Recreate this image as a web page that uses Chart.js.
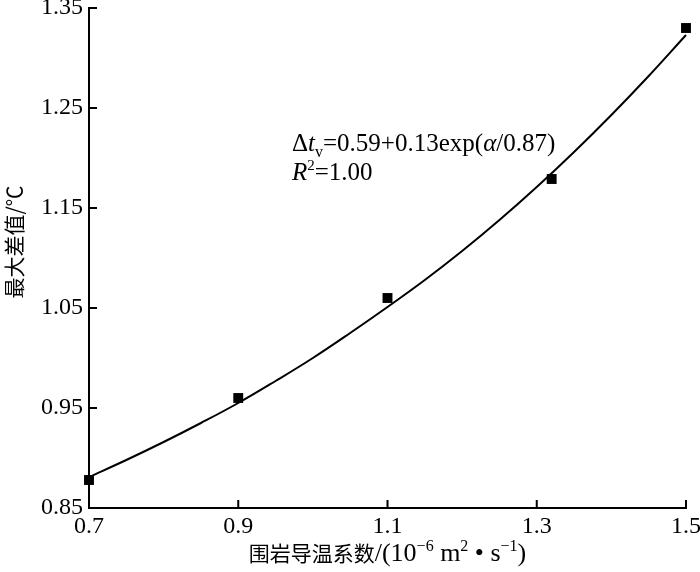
<!DOCTYPE html>
<html>
<head>
<meta charset="utf-8">
<script src="https://cdn.jsdelivr.net/npm/chart.js@4/dist/chart.umd.min.js"></script>
<style>
  html, body { margin: 0; padding: 0; background: #fff; }
  #wrap { width: 700px; height: 572px; }
</style>
</head>
<body>
<div id="wrap"><canvas id="chart"></canvas></div>
<script>
/* Measured points (thermal diffusivity vs. max difference) */
const POINT_X = [0.7, 0.9, 1.1, 1.32, 1.5];
const POINT_Y = [0.878, 0.960, 1.060, 1.179, 1.330];

/* Fitted curve */
const CURVE_X = [0.70, 0.75, 0.80, 0.85, 0.90, 0.95, 1.00, 1.05, 1.10, 1.15, 1.20, 1.25, 1.30, 1.35, 1.40, 1.45, 1.50];
const CURVE_Y = [0.881, 0.898, 0.916, 0.935, 0.955, 0.977, 1.000, 1.025, 1.051, 1.078, 1.107, 1.138, 1.171, 1.206, 1.243, 1.282, 1.323];

/* Axis ticks */
const X_TICKS = [0.7, 0.9, 1.1, 1.3, 1.5];
const Y_TICKS = [0.85, 0.95, 1.05, 1.15, 1.25, 1.35];

const SERIF = "'Liberation Serif', 'DejaVu Serif', serif";
const CJK = "'Noto Sans CJK SC', sans-serif";

/* Draw a run of text pieces: [text, font, baseline shift] */
function drawRun(ctx, parts, x, y, align) {
    let total = 0;
    for (const p of parts) {
        ctx.font = p[1];
        total += ctx.measureText(p[0]).width;
    }
    let cx = align === "center" ? x - total / 2 : x;
    ctx.textAlign = "left";
    ctx.textBaseline = "alphabetic";
    for (const p of parts) {
        ctx.font = p[1];
        ctx.fillText(p[0], cx, y + (p[2] || 0));
        cx += ctx.measureText(p[0]).width;
    }
}

/* Inward tick marks, axis titles and the fit equation */
const decorations = {
    id: "decorations",
    afterDraw(chart) {
        const { ctx, chartArea, scales } = chart;
        ctx.save();
        ctx.strokeStyle = "#000";
        ctx.lineWidth = 2;
        ctx.beginPath();
        for (const t of X_TICKS) {
            const px = scales.x.getPixelForValue(t);
            ctx.moveTo(px, chartArea.bottom);
            ctx.lineTo(px, chartArea.bottom - 8);
        }
        for (const t of Y_TICKS) {
            const py = scales.y.getPixelForValue(t);
            ctx.moveTo(chartArea.left, py);
            ctx.lineTo(chartArea.left + 8, py);
        }
        ctx.stroke();

        ctx.fillStyle = "#000";
        const big = "26px " + SERIF;
        const sup = "16px " + SERIF;

        /* x axis title */
        drawRun(ctx, [
            ["围岩导温系数", "21px " + CJK, 0],
            ["/(10", big, 0],
            ["\u2212", sup, -10],
            ["6", sup, -10],
            [" m", big, 0],
            ["2", sup, -10],
            [" \u2022 ", big, 0],
            ["s", big, 0],
            ["\u22121", sup, -10],
            [")", big, 0],
        ], (chartArea.left + chartArea.right) / 2, 561, "center");

        /* y axis title */
        ctx.save();
        ctx.translate(22, 242);
        ctx.rotate(-Math.PI / 2);
        drawRun(ctx, [["最大差值/℃", "21px " + CJK, 0]], 0, 0, "center");
        ctx.restore();

        /* fit equation */
        const eq = "25px " + SERIF;
        const eqI = "italic 25px " + SERIF;
        drawRun(ctx, [
            ["\u0394", eq, 0],
            ["t", eqI, 0],
            ["v", "16px " + SERIF, 6],
            ["=0.59+0.13exp(", eq, 0],
            ["\u03b1", eqI, 0],
            ["/0.87)", eq, 0],
        ], 292, 151, "left");
        drawRun(ctx, [
            ["R", eqI, 0],
            ["2", "15px " + SERIF, -10],
            ["=1.00", eq, 0],
        ], 292, 180, "left");
        ctx.restore();
    },
};

new Chart(document.getElementById("chart"), {
    type: "scatter",
    data: {
        datasets: [
            {
                type: "line",
                data: CURVE_X.map((x, i) => ({ x, y: CURVE_Y[i] })),
                borderColor: "#000",
                borderWidth: 2,
                pointRadius: 0,
                tension: 0.4,
                fill: false,
                clip: false,
            },
            {
                data: POINT_X.map((x, i) => ({ x, y: POINT_Y[i] })),
                pointStyle: "rect",
                pointRadius: 7,
                backgroundColor: "#000",
                borderColor: "#000",
                borderWidth: 0,
                clip: false,
            },
        ],
    },
    options: {
        responsive: true,
        maintainAspectRatio: false,
        animation: false,
        layout: { padding: { top: 8, right: 14, left: 0, bottom: 0 } },
        plugins: { legend: { display: false }, tooltip: { enabled: false } },
        scales: {
            x: {
                type: "linear",
                min: 0.7,
                max: 1.5,
                afterBuildTicks: s => { s.ticks = X_TICKS.map(v => ({ value: v })); },
                afterFit: s => {
                    s.height = 64;
                    s.paddingLeft = 0;
                    s.paddingRight = 0;
                },
                grid: { display: false, drawTicks: false },
                border: { display: true, color: "#000", width: 2 },
                ticks: {
                    color: "#000",
                    font: { family: SERIF, size: 24 },
                    padding: 4,
                    maxRotation: 0,
                    callback: v => v.toFixed(1),
                },
            },
            y: {
                type: "linear",
                min: 0.85,
                max: 1.35,
                afterBuildTicks: s => { s.ticks = Y_TICKS.map(v => ({ value: v })); },
                afterFit: s => {
                    s.width = 89;
                    s.paddingTop = 0;
                    s.paddingBottom = 0;
                },
                grid: { display: false, drawTicks: false },
                border: { display: true, color: "#000", width: 2 },
                ticks: {
                    color: "#000",
                    font: { family: SERIF, size: 24 },
                    padding: 6,
                    callback: v => v.toFixed(2),
                },
            },
        },
    },
    plugins: [decorations],
});
</script>
</body>
</html>
